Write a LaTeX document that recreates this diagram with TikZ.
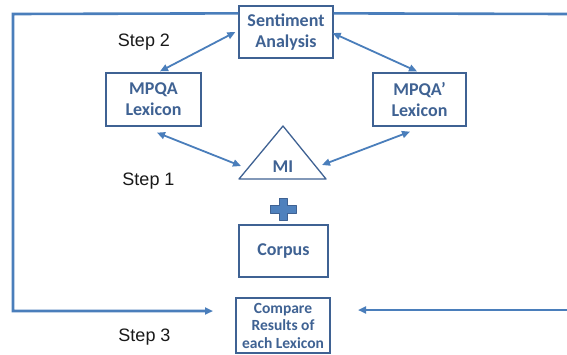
\documentclass[tikz,border=0pt]{standalone}
\usepackage{fontspec}
\setmainfont{Liberation Sans}
\newfontfamily\boxfont{Carlito}
\usetikzlibrary{arrows.meta,calc}
\definecolor{lineblue}{HTML}{4A7EBB}
\definecolor{boxblue}{HTML}{3F6293}
\definecolor{plusfill}{HTML}{4F81BD}
\begin{document}
\begin{tikzpicture}[x=1pt,y=-1pt,
  stepbox/.style={draw=boxblue,line width=1.3pt,text=boxblue,inner sep=0pt,align=center,
     font=\boxfont\bfseries\fontsize{18}{21}\selectfont},
  smallbox/.style={stepbox,font=\boxfont\bfseries\fontsize{15.5}{17.5}\selectfont},
  conn/.style={draw=lineblue,line width=1.8pt,{Triangle[length=8pt,width=7pt]}-{Triangle[length=8pt,width=7pt]}},
  frameline/.style={draw=lineblue,line width=2.6pt},
  feed/.style={draw=lineblue,line width=2pt,-{Triangle[length=8pt,width=7pt]}},
  steplabel/.style={font=\fontsize{18}{21}\selectfont,text=black!90,anchor=base,inner sep=0pt}]
\useasboundingbox (0,0) rectangle (567,354);
\fill[white] (0,0) rectangle (567,354);
% boxes
\node[stepbox,minimum width=94pt,minimum height=52pt] (sa) at (286,32) {Sentiment\\Analysis};
\node[stepbox,minimum width=95pt,minimum height=53pt] (mpqa) at (153.5,99.5) {MPQA\\Lexicon};
\node[stepbox,minimum width=93pt,minimum height=53pt] (mpqap) at (419.5,99.5) {MPQA’\\Lexicon};
\node[stepbox,minimum width=89pt,minimum height=52pt] (corpus) at (283.5,251) {Corpus};
\node[smallbox,minimum width=94pt,minimum height=55pt] (cmp) at (283,325.5) {Compare\\Results of\\each Lexicon};
% triangle MI
\coordinate (apex) at (283,126);
\coordinate (bl) at (239,179);
\coordinate (br) at (326,179);
\draw[draw=boxblue,line width=1.3pt,line join=round] (apex) -- (br) -- (bl) -- cycle;
\node[text=boxblue,font=\boxfont\bfseries\fontsize{18}{21}\selectfont,anchor=base,inner sep=0pt] (mi) at (283,172.5) {MI};
\coordinate (miL) at (241,166);
\coordinate (miR) at (322,165);
% plus sign
\coordinate (plus) at (283,209);
\filldraw[fill=plusfill,draw=boxblue,line width=0.6pt,line join=round]
  ($(plus)+(-4,-11)$) -- ($(plus)+(4,-11)$) -- ($(plus)+(4,-4)$) -- ($(plus)+(13,-4)$) --
  ($(plus)+(13,4)$) -- ($(plus)+(4,4)$) -- ($(plus)+(4,11)$) -- ($(plus)+(-4,11)$) --
  ($(plus)+(-4,4)$) -- ($(plus)+(-13,4)$) -- ($(plus)+(-13,-4)$) -- ($(plus)+(-4,-4)$) -- cycle;
% connectors
\draw[conn] ([xshift=-3pt]sa.west) -- ([xshift=6.5pt,yshift=1pt]mpqa.north);
\draw[conn] ([xshift=-1pt,yshift=-1pt]sa.east) -- ([xshift=-2.5pt,yshift=1pt]mpqap.north);
\draw[conn] ([xshift=3.5pt,yshift=-6pt]mpqa.south) -- (miL);
\draw[conn] ([xshift=-9.5pt,yshift=-5pt]mpqap.south) -- (miR);
% feedback frame
\coordinate (tl) at (13,14);
\coordinate (blc) at (13,311);
\coordinate (lend) at (213,311);
\coordinate (tr) at (567,14);
\coordinate (rstart) at (567,310);
\coordinate (rend) at (358,310);
\draw[frameline,line join=miter] ([yshift=-8pt]sa.north west) -- (tl) -- (blc) -- ($(lend)+(-6,0)$);
\draw[feed] ($(lend)+(-7,0)$) -- (lend);
\draw[frameline] ([yshift=-8pt]sa.north east) -- (tr);
\draw[feed] (rstart) -- (rend);
% step labels
\node[steplabel] (s2) at (144,46) {Step 2};
\node[steplabel] (s1) at (148.5,185.5) {Step 1};
\node[steplabel] (s3) at (144.5,341) {Step 3};
\end{tikzpicture}
\end{document}
